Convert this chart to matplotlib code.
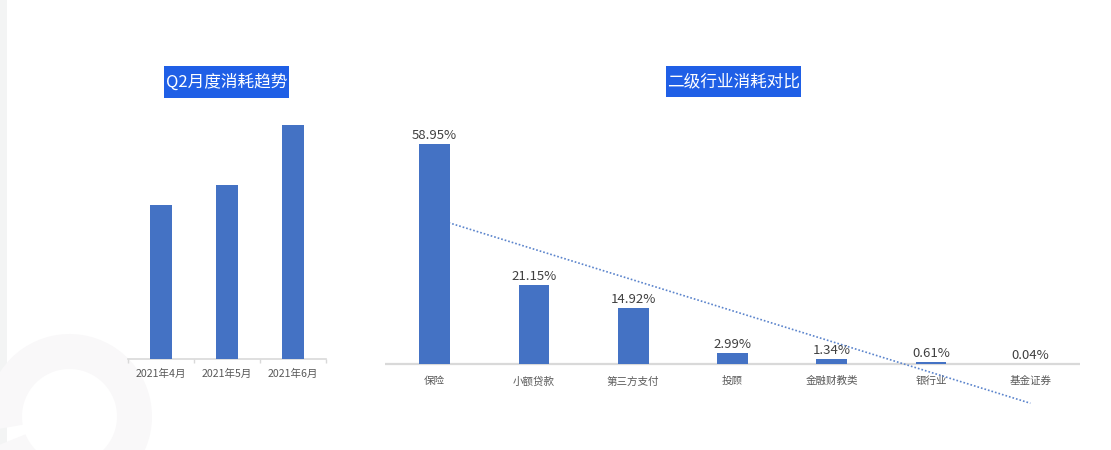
import numpy as np
import matplotlib.pyplot as plt
from matplotlib.patches import Rectangle, Wedge

plt.rcParams['font.family'] = ['Noto Sans CJK SC', 'DejaVu Sans']

# 左图：Q2月度消耗（无刻度值，按柱高估计的相对量）
months = ['2021年4月', '2021年5月', '2021年6月']
month_values = [154, 174, 234]

# 右图：二级行业消耗占比 (%)
industries = ['保险', '小额贷款', '第三方支付', '投顾', '金融财教类', '银行业', '基金证券']
shares = [58.95, 21.15, 14.92, 2.99, 1.34, 0.61, 0.04]

blue = '#4472c4'
title_blue = '#1f5fe6'
axis_gray = '#d9d9d9'

W, H = 1111, 450
fig = plt.figure(figsize=(W / 100, H / 100), dpi=100)
fig.patch.set_facecolor('white')


def px_axes(x0, y0, x1, y1):
    # pixel box (top-left origin) -> figure axes
    return fig.add_axes([x0 / W, 1 - y1 / H, (x1 - x0) / W, (y1 - y0) / H])


# background decoration
bg = fig.add_axes([0, 0, 1, 1])
bg.set_xlim(0, W)
bg.set_ylim(H, 0)
bg.axis('off')
bg.add_patch(Rectangle((0, 0), 7, H, color='#f3f4f4', lw=0))
bg.add_patch(Wedge((69.5, 416.5), 82.5, 170, 158 + 360, width=35, color='#f9f8f9', lw=0))

for (x0, y0, x1, y1), txt in [((164, 66, 289, 98), 'Q2月度消耗趋势'),
                              ((666, 66, 801, 97), '二级行业消耗对比')]:
    bg.add_patch(Rectangle((x0, y0), x1 - x0, y1 - y0, color=title_blue, lw=0))
    bg.text((x0 + x1) / 2, (y0 + y1) / 2 + 0.5, txt, color='white', fontsize=12,
            fontweight='medium', ha='center', va='center')

# left chart
ax1 = px_axes(128, 109, 326, 359)
ax1.patch.set_alpha(0)
x1 = np.arange(len(months))
ax1.bar(x1, month_values, width=0.32, color=blue, zorder=3)
ax1.set_xlim(-0.5, 2.5)
ax1.set_ylim(0, 250)
for s in ['top', 'right', 'left']:
    ax1.spines[s].set_visible(False)
ax1.spines['bottom'].set_color(axis_gray)
ax1.spines['bottom'].set_linewidth(1.2)
ax1.set_yticks([])
ax1.set_xticks(x1)
ax1.set_xticklabels(months, fontsize=7.6, color='#595959')
ax1.set_xticks([-0.5, 0.5, 1.5, 2.5], minor=True)
ax1.tick_params(axis='x', which='major', length=0, pad=7)
ax1.tick_params(axis='x', which='minor', length=3, color=axis_gray, width=1)

# right chart
ax2 = px_axes(385, 103, 1080, 420)
ax2.patch.set_alpha(0)
x2 = np.arange(len(industries))
ax2.bar(x2, shares, width=0.31, color=blue, zorder=3)
ax2.set_xlim(-0.5, len(industries) - 0.5)
ax2.set_ylim(-15, 70)
for s in ax2.spines.values():
    s.set_visible(False)
ax2.axhline(0, color=axis_gray, lw=1.6, zorder=1)
ax2.set_yticks([])
ax2.set_xticks(x2)
ax2.set_xticklabels(industries, fontsize=7.6, color='#595959')
ax2.tick_params(axis='x', length=0, pad=-31.5)

for xi, v in zip(x2, shares):
    ax2.annotate(f'{v:.2f}%', (xi, v), xytext=(0, 1.5), textcoords='offset points',
                 ha='center', va='bottom', fontsize=9.5, color='#404040', zorder=5)

# linear trendline
k, b = np.polyfit(x2, shares, 1)
ax2.plot(x2, k * x2 + b, linestyle=(0, (1, 1.2)), color='#5b84cc', lw=1.2, zorder=2)

fig.savefig('out.png', dpi=100)
